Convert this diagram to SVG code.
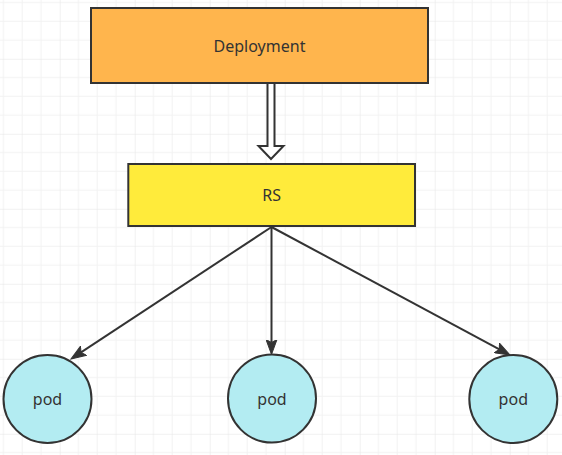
<svg xmlns="http://www.w3.org/2000/svg" width="562" height="455" viewBox="0 0 562 455">
<style>
.box{stroke:#333333;stroke-width:2}
.pod{fill:#b3ecf2;stroke:#333333;stroke-width:2}
.lbl{font-family:"Noto Sans","Liberation Sans",sans-serif;font-size:16px;fill:#333333;text-anchor:middle;dominant-baseline:central}
.edge{stroke:#333333;stroke-width:2;fill:none;marker-end:url(#arr)}
</style>
<defs>
<pattern id="grid" x="-15.3" y="-16.2" width="75" height="75" patternUnits="userSpaceOnUse">
<path d="M18.75 0V75M37.5 0V75M56.25 0V75M0 18.75H75M0 37.5H75M0 56.25H75" stroke="#f2f2f2" stroke-width="1" fill="none"/>
<path d="M0 0V75M0 0H75" stroke="#e4e4e4" stroke-width="1" fill="none"/>
</pattern>
<marker id="arr" markerUnits="userSpaceOnUse" markerWidth="16" markerHeight="12" viewBox="-3 -6 16 12" refX="0" refY="0" orient="auto">
<path d="M12 0L-3 -5.5L0 0L-3 5.5Z" fill="#333333" stroke="#333333" stroke-width="1" stroke-linejoin="miter"/>
</marker>
</defs>
<rect width="562" height="455" fill="#ffffff"/>
<rect width="562" height="455" fill="url(#grid)"/>
<g id="connectors">
<polygon points="267.5,82 274.5,82 274.5,146 283.5,146 271,159 258.5,146 267.5,146" fill="#ffffff" stroke="#333333" stroke-width="2" stroke-linejoin="miter"/>
<path class="edge" d="M271.5 227L81 352.4"/>
<path class="edge" d="M271.5 227L271.5 342.5"/>
<path class="edge" d="M271.5 227L499.4 349.3"/>
</g>
<g id="deployment">
<rect class="box" x="91" y="8" width="337" height="75" fill="#ffb54d"/>
<text class="lbl" x="259.5" y="45.5">Deployment</text>
</g>
<g id="rs">
<rect class="box" x="128.3" y="164" width="286.7" height="62" fill="#ffeb3b"/>
<text class="lbl" x="271.7" y="195">RS</text>
</g>
<g id="pod1">
<circle class="pod" cx="47.5" cy="399" r="44"/>
<text class="lbl" x="47.5" y="399">pod</text>
</g>
<g id="pod2">
<circle class="pod" cx="272" cy="398.5" r="44"/>
<text class="lbl" x="272" y="398.5">pod</text>
</g>
<g id="pod3">
<circle class="pod" cx="513.3" cy="399" r="44"/>
<text class="lbl" x="513.3" y="399">pod</text>
</g>
</svg>
